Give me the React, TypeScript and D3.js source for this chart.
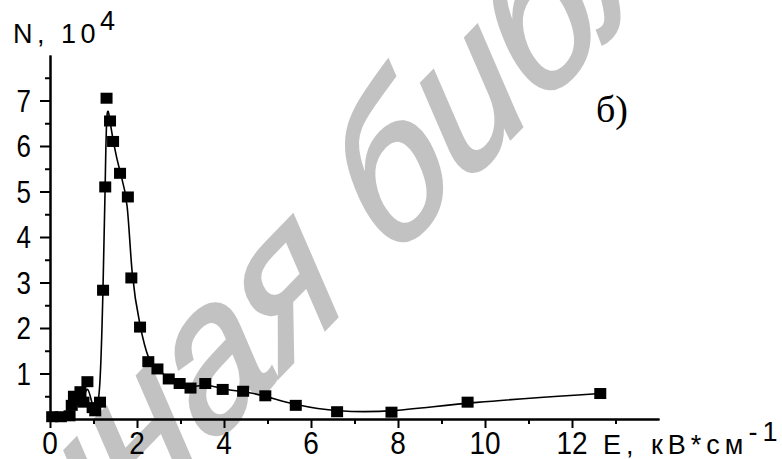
import { useEffect, useRef } from 'react';
import * as d3 from 'd3';

// E, kV/cm  and  N, 10^4
const fieldE = [
  0.05, 0.25, 0.45, 0.5, 0.55, 0.63, 0.7, 0.77, 0.86, 0.98, 1.04, 1.15,
  1.22, 1.27, 1.3, 1.38, 1.45, 1.61, 1.79, 1.87, 2.07, 2.26, 2.47, 2.73,
  2.98, 3.23, 3.57, 3.97, 4.44, 4.95, 5.65, 6.6, 7.85, 9.6, 12.65,
];
const countN = [
  0.05, 0.05, 0.07, 0.3, 0.5, 0.42, 0.6, 0.37, 0.82, 0.25, 0.18, 0.37,
  2.83, 5.1, 7.05, 6.55, 6.1, 5.4, 4.88, 3.1, 2.02, 1.26, 1.1, 0.88,
  0.78, 0.68, 0.78, 0.65, 0.61, 0.51, 0.3, 0.16, 0.15, 0.37, 0.56,
];

const xMajor = [0, 2, 4, 6, 8, 10, 12];
const xMinor = [1, 3, 5, 7, 9, 11, 13];
const yMajor = [1, 2, 3, 4, 5, 6, 7];
const yMinor = [0.5, 1.5, 2.5, 3.5, 4.5, 5.5, 6.5, 7.5];

const SANS = 'Liberation Sans, Arial, sans-serif';

export default function App() {
  const svgRef = useRef<SVGSVGElement>(null);

  useEffect(() => {
    if (!svgRef.current) return;
    const svg = d3.select(svgRef.current);
    svg.selectAll('*').remove();

    const x = d3.scaleLinear().domain([0, 14]).range([50, 659]);
    const y = d3.scaleLinear().domain([0, 8]).range([419, 55]);

    // watermark behind the plot (stretched vertically like the scan)
    const wm = svg.append('g')
      .attr('transform', 'translate(64,598) scale(1,1.25) rotate(-39.5)')
      .attr('font-family', SANS)
      .attr('font-style', 'italic')
      .attr('font-size', 171)
      .attr('fill', '#c2c2c2')
      .attr('stroke', '#c2c2c2')
      .attr('stroke-width', 3);
    wm.append('text').attr('text-anchor', 'end').text('Электро');
    wm.append('text').text('нная библиотека');

    const styleAxis = (g) => {
      g.selectAll('path, line').attr('stroke', '#000').attr('stroke-width', 2);
    };

    // x axis
    svg.append('g')
      .attr('transform', `translate(0,${y(0)})`)
      .call(d3.axisBottom(x).tickValues(xMinor).tickSize(5).tickSizeOuter(0).tickFormat(() => ''))
      .call(styleAxis);
    svg.append('g')
      .attr('transform', `translate(0,${y(0)})`)
      .call(d3.axisBottom(x).tickValues(xMajor).tickSize(9).tickSizeOuter(0).tickFormat(() => ''))
      .call(styleAxis);

    svg.append('g')
      .selectAll('text')
      .data(xMajor)
      .join('text')
      .attr('transform', d => `translate(${x(d)},454) scale(1,1.1)`)
      .attr('text-anchor', 'middle')
      .attr('font-family', SANS)
      .attr('font-size', 28)
      .attr('fill', '#000')
      .text(d => d);

    // y axis
    svg.append('g')
      .attr('transform', `translate(${x(0)},0)`)
      .call(d3.axisLeft(y).tickValues(yMinor).tickSize(5).tickSizeOuter(0).tickFormat(() => ''))
      .call(styleAxis);
    svg.append('g')
      .attr('transform', `translate(${x(0)},0)`)
      .call(d3.axisLeft(y).tickValues(yMajor).tickSize(10).tickSizeOuter(0).tickFormat(() => ''))
      .call(styleAxis);

    svg.append('g')
      .selectAll('text')
      .data(yMajor)
      .join('text')
      .attr('transform', d => `translate(31,${y(d) + 11}) scale(1,1.18)`)
      .attr('text-anchor', 'end')
      .attr('font-family', SANS)
      .attr('font-size', 26)
      .attr('fill', '#000')
      .text(d => d);

    const pts = fieldE.map((e, i) => [e, countN[i]]);

    const line = d3.line()
      .x(d => x(d[0]))
      .y(d => y(d[1]))
      .curve(d3.curveBasis);

    svg.append('path')
      .datum(pts)
      .attr('d', line)
      .attr('fill', 'none')
      .attr('stroke', '#000')
      .attr('stroke-width', 1.6);

    svg.append('g')
      .selectAll('rect')
      .data(pts)
      .join('rect')
      .attr('x', d => x(d[0]) - 6)
      .attr('y', d => y(d[1]) - 5.5)
      .attr('width', 12)
      .attr('height', 11)
      .attr('fill', '#000');

    // axis titles
    const yt = svg.append('text')
      .attr('x', 13).attr('y', 43)
      .attr('font-family', SANS).attr('font-size', 27)
      .attr('letter-spacing', 4.5).attr('fill', '#000');
    yt.append('tspan').text('N, 10');
    yt.append('tspan').attr('dy', -13).text('4');

    const xt = svg.append('text')
      .attr('x', 603).attr('y', 454)
      .attr('font-family', SANS).attr('font-size', 27)
      .attr('letter-spacing', 5).attr('fill', '#000');
    xt.append('tspan').text('E, кВ*см');
    xt.append('tspan').attr('dy', -13).text('-1');

    svg.append('text')
      .attr('x', 596).attr('y', 122)
      .attr('font-family', 'Liberation Serif, Times New Roman, serif')
      .attr('font-size', 38)
      .attr('fill', '#000')
      .text('б)');
  }, []);

  return (
    <svg
      ref={svgRef}
      width={782}
      height={459}
      style={{ position: 'absolute', left: 0, top: 0, background: '#fff' }}
    />
  );
}
